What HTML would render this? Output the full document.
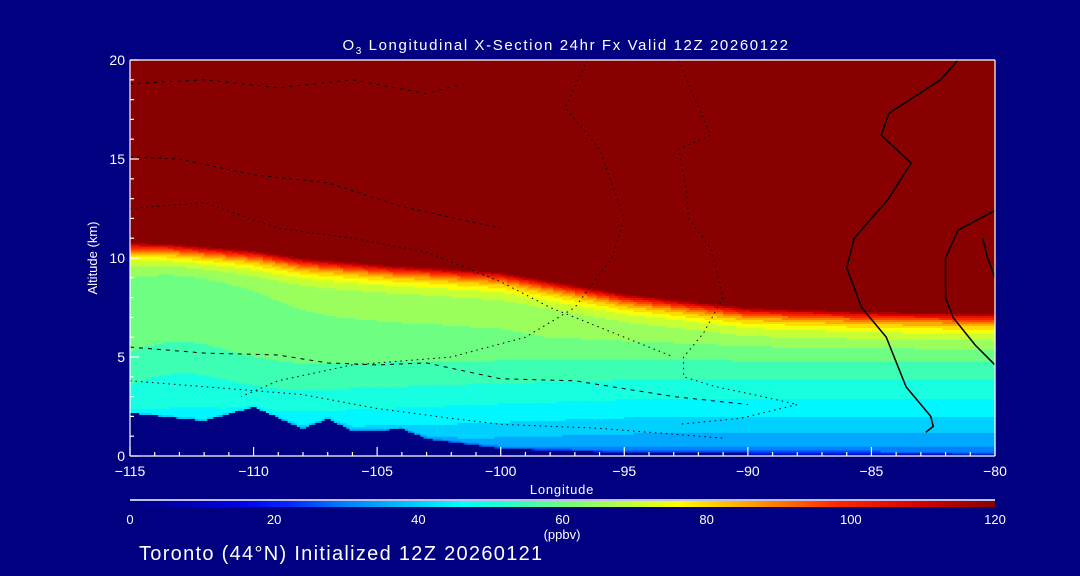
<!DOCTYPE html>
<html><head><meta charset="utf-8">
<style>
html,body{margin:0;padding:0;background:#000080;}
svg{display:block}
text{font-family:"Liberation Sans",sans-serif;fill:#fff}
</style></head>
<body>
<svg id="chart" width="1080" height="576" viewBox="0 0 1080 576" xmlns="http://www.w3.org/2000/svg">
<rect width="1080" height="576" fill="#000080"/>
<text x="566" y="50" font-size="15" letter-spacing="1.6" text-anchor="middle">O<tspan font-size="10" dy="4">3</tspan><tspan dy="-4"> Longitudinal X-Section 24hr  Fx Valid 12Z 20260122</tspan></text>
<g id="field"></g>
<g id="contours"></g>
<g id="axes"></g>
<text x="562" y="494" font-size="13" letter-spacing="0.8" text-anchor="middle">Longitude</text>
<text transform="translate(97,258) rotate(-90)" font-size="13" text-anchor="middle">Altitude (km)</text>
<defs><linearGradient id="cbg" x1="0" x2="1" y1="0" y2="0"></linearGradient></defs>
<line x1="130" y1="500" x2="995" y2="500" stroke="#fff" stroke-width="1.5"/>
<rect x="130" y="501" width="865" height="6" fill="url(#cbg)"/>
<g id="cbticks"></g>
<text x="562" y="539" font-size="13" text-anchor="middle">(ppbv)</text>
<text x="139" y="560" font-size="20" letter-spacing="1.3">Toronto (44°N) Initialized 12Z 20260121</text>
</svg>
<script>
const lons=[-115,-113.5,-112,-110,-108,-107,-106,-105,-104,-103,-100,-95,-90,-85,-80];
const tropo=[10.8,10.75,10.6,10.4,10.0,9.9,9.8,9.7,9.6,9.55,9.3,8.2,7.5,7.3,7.2];
const terrain=[2.2,2.0,1.8,2.5,1.4,1.9,1.3,1.3,1.4,0.9,0.4,0.2,0.15,0.15,0.1];
const cbTicks=[0,20,40,60,80,100,120];
const xTicksMajor=[-115,-110,-105,-100,-95,-90,-85,-80];
const yTicksMajor=[0,5,10,15,20];
const contour0a=[[-81.5,20],[-82.2,19],[-84.3,17.3],[-84.6,16.2],[-83.4,14.8],[-84.3,13],[-85.7,11],[-86,9.5],[-85.4,7.5],[-84.4,6],[-83.6,3.5],[-82.6,2],[-82.5,1.5],[-82.8,1.2]];
const contour0b=[[-80,12.4],[-81.5,11.4],[-82,10],[-82.0,8],[-81.7,7],[-80.8,5.6],[-80,4.6]];
const contour0c=[[-80,9],[-80.3,10],[-80.5,11]];
const contour10a=[[-92.8,20],[-92,17.6],[-91.5,16.2],[-92.8,15.5],[-92.5,13.5],[-92.4,12],[-91.5,10.5],[-91,8],[-91.8,6.2],[-92.6,5],[-92.6,4],[-91.3,3.5],[-89.4,3],[-88,2.6],[-90.3,1.9],[-92.8,1.6]];
const contour10b=[[-96.5,20],[-97.4,17.6],[-96,15.5],[-95,12],[-95.5,10],[-97,7.5],[-99,6],[-102,5],[-106,4.6],[-109,3.8],[-110.5,3]];
const contour20a=[[-115,12.5],[-112,12.8],[-109,11.5],[-106,11],[-103,10.3],[-100,8.8],[-98,7.5],[-96,6.5],[-93,5]];
const contour20b=[[-115,15.1],[-113,15],[-110,14.2],[-107,13.8],[-104,12.6],[-100,11.5]];
const contour20c=[[-115,18.8],[-112,19],[-109,18.6],[-106,19],[-103,18.3],[-101.5,18.8]];
const contourM=[[-115,5.5],[-112,5.2],[-109,5.1],[-107,4.7],[-105,4.6],[-103,4.7],[-100,3.9],[-97,3.8],[-93,3.0],[-90,2.6]];
const contourL=[[-115,3.8],[-111,3.4],[-108,3.1],[-105,2.4],[-102,1.9],[-100,1.6],[-96,1.4],[-93,1.1],[-91,0.9]];

const X0=130,X1=995,Y0=456,Y1=60;
const sx=l=>X0+(l+115)/35*(X1-X0);
const sy=z=>Y0-z/20*(Y0-Y1);
function interp(arr,l){for(let i=0;i<lons.length-1;i++){if(l<=lons[i+1]){const t=(l-lons[i])/(lons[i+1]-lons[i]);return arr[i]+t*(arr[i+1]-arr[i]);}}return arr[arr.length-1];}
const stops=[[0,[0,0,128]],[15,[0,0,230]],[22,[0,40,255]],[30,[0,128,255]],[38,[0,192,255]],[46,[0,255,255]],[53,[40,255,200]],[60,[110,255,130]],[68,[180,255,70]],[76,[255,255,0]],[86,[255,160,0]],[98,[255,40,0]],[110,[210,0,0]],[120,[136,0,0]]];
function col(v){v=Math.max(0,Math.min(120,v));for(let i=0;i<stops.length-1;i++){if(v<=stops[i+1][0]){const t=(v-stops[i][0])/(stops[i+1][0]-stops[i][0]);const a=stops[i][1],b=stops[i+1][1];return 'rgb('+a.map((c,k)=>Math.round(c+t*(b[k]-c))).join(',')+')';}}return 'rgb(136,0,0)';}
function val(l,z,terr){const tp=interp(tropo,l);if(z>=tp)return 120;const d=tp-z;
 const east=(l+115)/35;
 const p=0.45+0.3*Math.min(1,east*1.6);
 const h=Math.max(0,z/6);
 let base=27+35*Math.pow(Math.min(1,h),p);
 base-=4*Math.exp(-Math.pow((l+113)/3,2))*Math.min(1,z/4);
 base-=10*Math.exp(-(z-terr)/0.08);
 return base+(120-base)*Math.exp(-d/0.6);}
const NS='http://www.w3.org/2000/svg';
const field=document.getElementById('field');
const dl=0.125,dz=0.1;
for(let l=-115;l<-80-1e-9;l+=dl){
 const terr=interp(terrain,l+dl/2);
 let runStart=null,runCol=null;
 const flush=(zTop)=>{if(runCol===null)return;const r=document.createElementNS(NS,'rect');
  r.setAttribute('x',sx(l));r.setAttribute('width',sx(l+dl)-sx(l)+0.6);
  r.setAttribute('y',sy(zTop));r.setAttribute('height',sy(runStart)-sy(zTop)+0.6);r.setAttribute('fill',runCol);
  
  
  field.appendChild(r);};
 for(let z=0;z<20-1e-9;z+=dz){
  const zc=z+dz/2;let c;
  if(zc<terr)c='#000080';else{const v=Math.round(val(l+dl/2,zc,terr)/5)*5;c=col(v);}
  if(c!==runCol){flush(z);runStart=z;runCol=c;}
 }
 flush(20);
}
const cg=document.getElementById('contours');
function poly(pts,dash,w,name){const p=document.createElementNS(NS,'polyline');
 p.setAttribute('points',pts.map(q=>sx(q[0])+','+sy(q[1])).join(' '));
 p.setAttribute('fill','none');p.setAttribute('stroke','#000');p.setAttribute('stroke-width',w);
 if(dash)p.setAttribute('stroke-dasharray',dash);
 
 
 cg.appendChild(p);}
poly(contour0a,null,1.5,'contour-0-east');
poly(contour0b,null,1.5,'contour-0-far-east');
poly(contour0c,null,1.5,'contour-0-edge');
poly(contour10a,'1.5,4',1,'contour-minus10-east');
poly(contour10b,'1.5,4',1,'contour-minus10-west');
poly(contour20a,'1.5,4',1,'contour-minus20-a');
poly(contour20b,'3,4',1,'contour-minus20-b');
poly(contour20c,'3,5',1,'contour-minus20-c');
poly(contourM,'4,5',1,'contour-mid');
poly(contourL,'1.5,4',1,'contour-low');
const ax=document.getElementById('axes');
function line(x1,y1,x2,y2,name){const e=document.createElementNS(NS,'line');e.setAttribute('x1',x1);e.setAttribute('y1',y1);e.setAttribute('x2',x2);e.setAttribute('y2',y2);e.setAttribute('stroke','#fff');e.setAttribute('stroke-width',1.2);
 
 
 ax.appendChild(e);}
function txt(x,y,s,anchor,size,name){const e=document.createElementNS(NS,'text');e.setAttribute('x',x);e.setAttribute('y',y);e.setAttribute('text-anchor',anchor);e.setAttribute('font-size',size);e.textContent=s;
 
 
 return e;}
line(X0,Y1,X1,Y1,'plot-border-top');line(X1,Y1,X1,Y0,'plot-border-right');
line(X0,Y0,X1,Y0,'x-axis');line(X0,Y0,X0,Y1,'y-axis');
for(let l=-115;l<=-80;l++){const big=xTicksMajor.includes(l);line(sx(l),Y0,sx(l),Y0-(big?9:4),'x-tick');}
for(let z=0;z<=20;z++){const big=yTicksMajor.includes(z);line(X0,sy(z),X0+(big?9:4),sy(z),'y-tick');}
xTicksMajor.forEach(l=>ax.appendChild(txt(sx(l),Y0+20,(l<0?'\u2212':'')+Math.abs(l),'middle',14,'x-tick-label')));
yTicksMajor.forEach(z=>ax.appendChild(txt(X0-5,sy(z)+5,String(z),'end',14,'y-tick-label')));
const grad=document.getElementById('cbg');
for(let v=0;v<=120;v+=2){const s=document.createElementNS(NS,'stop');s.setAttribute('offset',(v/120*100)+'%');s.setAttribute('stop-color',col(v));grad.appendChild(s);}
const cbt=document.getElementById('cbticks');
cbTicks.forEach(v=>cbt.appendChild(txt(130+v/120*865,524,String(v),'middle',13,'colorbar-tick-label')));
</script>
</body></html>
